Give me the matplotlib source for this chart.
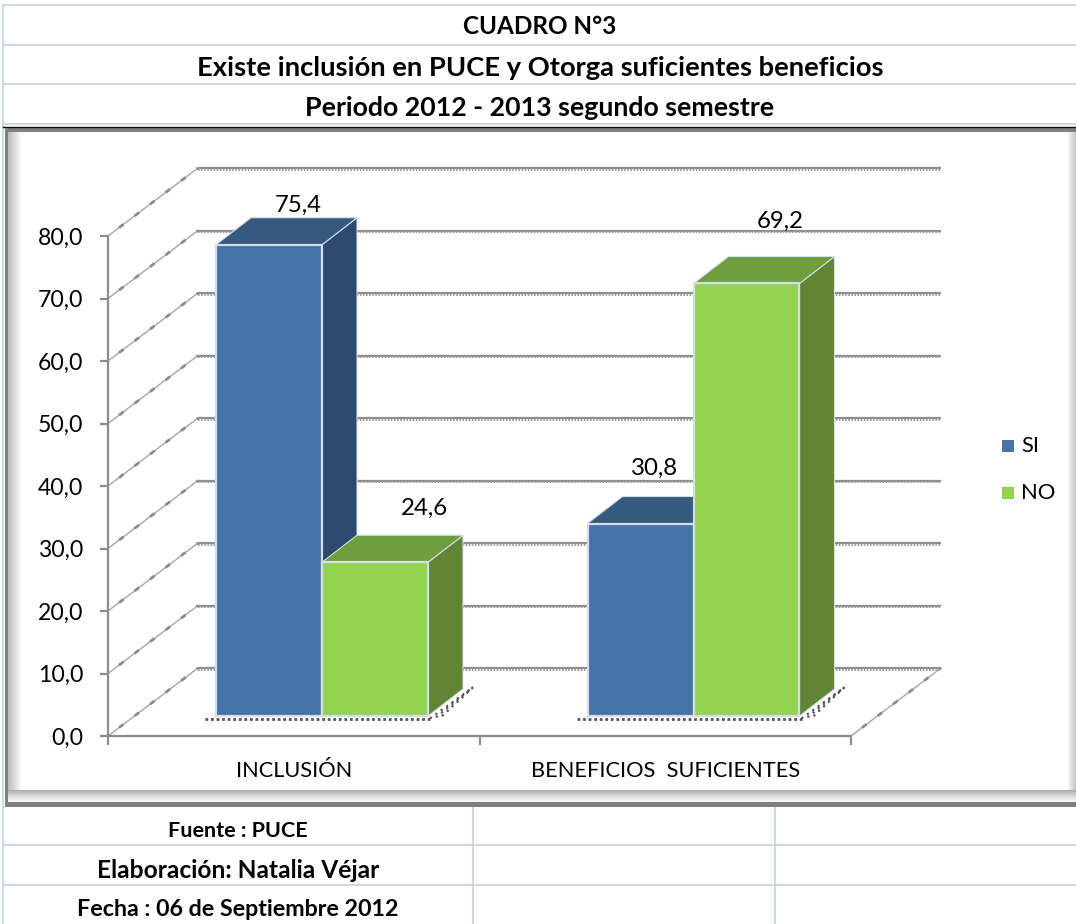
import numpy as np
import matplotlib
matplotlib.use("Agg")
import matplotlib.pyplot as plt
from matplotlib.patches import Polygon, Rectangle
from matplotlib.colors import LinearSegmentedColormap

# ---------- data ----------
title_lines = ["CUADRO N°3",
               "Existe inclusión en PUCE y Otorga suficientes beneficios",
               "Periodo 2012 - 2013 segundo semestre"]
footer_lines = ["Fuente : PUCE", "Elaboración: Natalia Véjar", "Fecha : 06 de Septiembre 2012"]
categories = ["INCLUSIÓN", "BENEFICIOS  SUFICIENTES"]
series_names = ["SI", "NO"]
si_values = [75.4, 30.8]
no_values = [24.6, 69.2]
y_ticks = [0, 10, 20, 30, 40, 50, 60, 70, 80]

# ---------- style ----------
W, H = 1076, 924
FONT = ["Lato", "DejaVu Sans"]
px = 0.72  # points per pixel at dpi 100
GRID_LINE = "#d0d7e5"
BLUE = ("#4673a8", "#35597f", "#2c496e")
GREEN = ("#93d350", "#6f9f3d", "#5f8535")
EDGE = "#d4dde8"
TITLE_SIZES = (24.2, 27.4, 26.8)
FOOTER_SIZES = (21.5, 24.5, 23.2)
# pixel scale of the value axes
AX_L, AX_R, AX_B, AX_T = 108, 851, 736, 236
UX = (AX_R - AX_L) / 2
UY = (AX_B - AX_T) / 80
WALL = (90 / UX, 68 / UY)       # depth of the whole box, in data units
BAR_SHIFT = (0.0, 20 / UY)      # bars stand part way into the box
SIDE = (35 / UX, 27 / UY)       # depth of a bar
BAR_W = 106 / UX
BAR_OFFSET = 108 / UX           # left edge of the first bar inside a category
LABEL_OFFSETS = {(0, 0): (29, 39), (0, 1): (49, 54), (1, 0): (14, 55), (1, 1): (34, 62)}

fig = plt.figure(figsize=(W / 100, H / 100), dpi=100, facecolor="white")
page = fig.add_axes([0, 0, 1, 1])
page.set_axis_off()

# sheet grid
for y in (5, 45, 84, 124, 845, 885):
    page.plot([3, W], [y, y], color=GRID_LINE, lw=1.5, solid_capstyle="butt")
page.plot([3, 3], [5, 924], color=GRID_LINE, lw=1.5)
for x in (473, 775):
    page.plot([x, x], [806, 924], color=GRID_LINE, lw=1.5)

# chart frame with bevel
grad = LinearSegmentedColormap.from_list("g", ["#ffffff", "#aaaaaa"])
page.add_patch(Rectangle((5, 128), W - 5, 678, fc="white", ec="none", zorder=1))
ramp = np.linspace(0, 1, 32)
kw = dict(cmap=grad, aspect="auto", vmin=0, vmax=1, zorder=1.5)
page.imshow(ramp[::-1].reshape(1, -1) * 0.8, extent=(8, 22, 806, 130), **kw)
page.imshow(ramp.reshape(1, -1) * 0.7, extent=(1067, 1076, 806, 130), **kw)
page.imshow((ramp**1.5).reshape(-1, 1), extent=(8, 1076, 804, 790), origin="lower", **kw)
page.add_patch(Rectangle((5, 128), W - 5, 4, fc="#808080", ec="none", zorder=2))
page.plot([3, W], [126.5, 126.5], color="#111111", lw=1.0, zorder=2)
page.add_patch(Rectangle((5, 128), 3, 678, fc="#808080", ec="none", zorder=2))
page.add_patch(Rectangle((5, 802), W - 5, 5, fc="#808080", ec="none", zorder=2))
page.set_xlim(0, W)
page.set_ylim(H, 0)

# header and footer text
for txt, y, fs in zip(title_lines, (27, 68, 108), TITLE_SIZES):
    page.text(540, y, txt, family=FONT, weight="bold", fontsize=fs * px,
              ha="center", va="center", color="black", zorder=3)
for txt, y, fs in zip(footer_lines, (831, 870, 910), FOOTER_SIZES):
    page.text(238, y, txt, family=FONT, weight="bold", fontsize=fs * px,
              ha="center", va="center", color="black", zorder=3)

# value axes
ax = fig.add_axes([AX_L / W, 1 - AX_B / H, (AX_R - AX_L) / W, (AX_B - AX_T) / H], zorder=5)
ax.patch.set_alpha(0)
ax.set_xlim(0, 2)
ax.set_ylim(0, 80)
for s in ("top", "right"):
    ax.spines[s].set_visible(False)
for s in ("left", "bottom"):
    ax.spines[s].set_color("#8c8c8c")
    ax.spines[s].set_linewidth(1.6)
ax.set_yticks(y_ticks)
ax.set_yticklabels([f"{v:.1f}".replace(".", ",") for v in y_ticks],
                   family=FONT, fontsize=23 * px)
ax.tick_params(axis="y", length=8 * px, width=1.6, color="#8c8c8c", pad=17 * px)
ax.set_xticks([0, 1, 2])
ax.set_xticklabels([])
ax.tick_params(axis="x", which="major", length=9 * px, width=1.6, color="#8c8c8c")
ax.set_xticks([0.5, 1.5], minor=True)
ax.set_xticklabels(categories, minor=True, family=FONT, fontsize=21.8 * px)
ax.tick_params(axis="x", which="minor", length=0, pad=25 * px)

# back wall gridlines and side-wall diagonals
for v in y_ticks:
    xs = [WALL[0], 2 + WALL[0]]
    ys = [v + WALL[1], v + WALL[1]]
    ax.plot(xs, ys, color="#8f8f8f", lw=1.6, clip_on=False, zorder=1, solid_capstyle="butt")
    ax.plot(xs, [y - 0.3 for y in ys], color="#9a9a9a", lw=1.4, ls=(0, (0.8, 0.8)),
            clip_on=False, zorder=1)
    ax.plot([0, WALL[0]], [v, v + WALL[1]], color="#a6a6a6", lw=1.0, clip_on=False, zorder=1)
    ax.plot([0, WALL[0]], [v, v + WALL[1]], color="#8c8c8c", lw=2.0,
            ls=(2, (2, 5)), clip_on=False, zorder=1)
# right floor edge
ax.plot([2, 2 + WALL[0]], [0, WALL[1]], color="#a6a6a6", lw=1.0, clip_on=False, zorder=1)
ax.plot([2, 2 + WALL[0]], [0, WALL[1]], color="#8c8c8c", lw=2.0,
        ls=(2, (2, 5)), clip_on=False, zorder=1)
ax.plot([0, 2], [0, 0], color="#9a9a9a", lw=1.4, ls=(0, (0.8, 0.8)), clip_on=False, zorder=1)


def bar3d(x0, value, colors, z):
    x1 = x0 + BAR_W
    b = BAR_SHIFT[1]
    t = value + b
    dx, dy = SIDE
    ax.add_patch(Polygon([(x1, b), (x1 + dx, b + dy), (x1 + dx, t + dy), (x1, t)],
                         fc=colors[2], ec=EDGE, lw=0.8, clip_on=False, zorder=z))
    ax.add_patch(Polygon([(x0, t), (x0 + dx, t + dy), (x1 + dx, t + dy), (x1, t)],
                         fc=colors[1], ec=EDGE, lw=0.8, clip_on=False, zorder=z))
    ax.add_patch(Polygon([(x0, b), (x1, b), (x1, t), (x0, t)],
                         fc=colors[0], ec=EDGE, lw=1.6, clip_on=False, zorder=z + 0.1))


for c in range(len(categories)):
    x_si = c + BAR_OFFSET
    x_no = x_si + BAR_W
    base = BAR_SHIFT[1] - 0.4
    # dotted base outline on the floor
    left = x_si - 11 / UX
    right = x_no + BAR_W + 2 / UX
    ax.plot([left, right], [base, base], color="#555555", lw=2.0,
            ls=(0, (1, 1)), clip_on=False, zorder=2)
    for off in (0, 6 / UX, 12 / UX):
        ax.plot([right + off, right + SIDE[0] + 8 / UX], [base + off * UX / UY * 0.2, base + 5],
                color="#555555", lw=1.6, ls=(0, (1, 2)), clip_on=False, zorder=2)
    bar3d(x_si, si_values[c], BLUE, 3 + c)
    bar3d(x_no, no_values[c], GREEN, 3.5 + c)
    for s, (x0, v) in enumerate(((x_si, si_values[c]), (x_no, no_values[c]))):
        ox, oy = LABEL_OFFSETS[(c, s)]
        ax.annotate(f"{v:.1f}".replace(".", ","), (x0 + BAR_W / 2, v + BAR_SHIFT[1]),
                    xytext=(ox * px, oy * px), textcoords="offset points",
                    ha="center", va="center", family=FONT, fontsize=24 * px,
                    color="black", annotation_clip=False, zorder=10)

# legend
for name, col, y in zip(series_names, (BLUE[0], GREEN[0]), (446, 493)):
    page.add_patch(Rectangle((1002, y - 6), 12, 12, fc=col, ec="none", zorder=3))
    page.text(1021, y, name, family=FONT, fontsize=22 * px, ha="left", va="center", zorder=3)

fig.savefig("out.png", dpi=100, facecolor="white")
